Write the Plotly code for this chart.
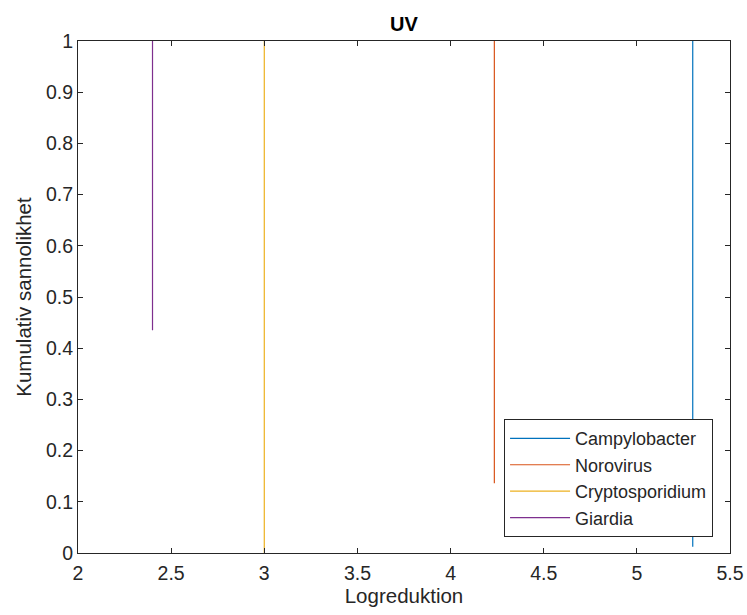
import plotly.graph_objects as go

series_names = ["Campylobacter", "Norovirus", "Cryptosporidium", "Giardia"]
series_x = [[5.3, 5.3], [4.235, 4.235], [3.0, 3.0], [2.4, 2.4]]
series_y = [[0.012, 1.0], [0.136, 1.0], [0.0, 1.0], [0.435, 1.0]]
colors = ["#0072BD", "#D95319", "#EDB120", "#7E2F8E"]

x_ticks = [2, 2.5, 3, 3.5, 4, 4.5, 5, 5.5]
x_tick_labels = ["2", "2.5", "3", "3.5", "4", "4.5", "5", "5.5"]
y_ticks = [0, 0.1, 0.2, 0.3, 0.4, 0.5, 0.6, 0.7, 0.8, 0.9, 1]
y_tick_labels = ["0", "0.1", "0.2", "0.3", "0.4", "0.5", "0.6", "0.7", "0.8", "0.9", "1"]

fig = go.Figure()
for name, xs, ys, c in zip(series_names, series_x, series_y, colors):
    fig.add_trace(go.Scatter(x=xs, y=ys, mode="lines", name=name,
                             line=dict(color=c, width=1.2)))

FONT = "Liberation Sans"
axis_common = dict(showgrid=False, zeroline=False, showline=True, linecolor="#262626",
                   linewidth=1, mirror="ticks", ticks="inside", ticklen=5,
                   tickcolor="#262626", automargin=False,
                   tickfont=dict(family=FONT, size=19.5, color="#262626"))

fig.update_layout(
    width=747, height=615,
    margin=dict(l=78, r=17, t=41, b=62, autoexpand=False),
    paper_bgcolor="white", plot_bgcolor="white",
    title=dict(text="<b>UV</b>", x=(78 + 404 - 78) / 747, xanchor="center",
               y=1 - 24 / 615, yanchor="middle",
               font=dict(family=FONT, size=20, color="black")),
    xaxis=dict(range=[2, 5.5], tickvals=x_ticks, ticktext=x_tick_labels,
               ticklabelstandoff=3,
               title=dict(text="Logreduktion", standoff=4,
                          font=dict(family=FONT, size=20.5, color="#262626")),
               **axis_common),
    yaxis=dict(range=[0, 1], tickvals=y_ticks, ticktext=y_tick_labels,
               title=dict(text="Kumulativ sannolikhet", standoff=8,
                          font=dict(family=FONT, size=20.5, color="#262626")),
               **axis_common),
    legend=dict(x=0.974, y=0.031, xanchor="right", yanchor="bottom",
                bgcolor="white", bordercolor="#262626", borderwidth=1,
                font=dict(family=FONT, size=18, color="#262626"),
                tracegroupgap=0, itemwidth=60),
    showlegend=True,
)

fig.write_html("out.html", config={"displayModeBar": False},
               post_script="document.body.style.margin='0';")
